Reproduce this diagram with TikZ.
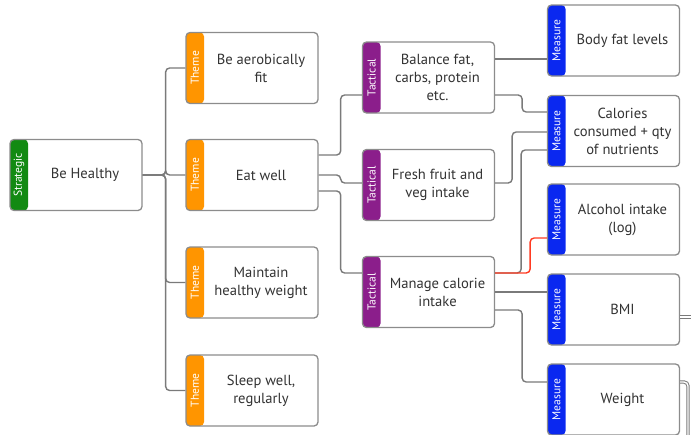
\documentclass[tikz,border=0pt]{standalone}
\usepackage{fontspec}
\setmainfont{PT Sans}
\usetikzlibrary{calc}

\definecolor{boxgray}{HTML}{8C8C8C}
\definecolor{linegray}{HTML}{7A7A7A}
\definecolor{textgray}{HTML}{333333}
\definecolor{stratgreen}{HTML}{128A12}
\definecolor{themeorange}{HTML}{FF9500}
\definecolor{tactpurple}{HTML}{8B1E8B}
\definecolor{measblue}{HTML}{0A28F0}
\definecolor{alertred}{HTML}{FF3B22}

\begin{document}
\begin{tikzpicture}[x=1pt,y=-1pt,
  card/.style={draw=boxgray,line width=1.3pt,rounded corners=4pt,fill=white,
    minimum width=132pt,minimum height=71pt,inner sep=0pt,
    path picture={\fill[#1] (path picture bounding box.north west)
      rectangle ([xshift=18pt]path picture bounding box.south west);}},
  tagtext/.style={xshift=-57pt,anchor=center,rotate=90,text=white,
    font=\fontsize{11.5}{13}\selectfont},
  cardtext/.style={xshift=9pt,anchor=center,align=center,text=textgray,
    font=\fontsize{14.6}{18}\selectfont},
  txt/.style={label={[cardtext]center:#1}},
  strategic/.style={card=stratgreen,label={[tagtext]center:Strategic}},
  theme/.style={card=themeorange,label={[tagtext]center:Theme}},
  tactical/.style={card=tactpurple,label={[tagtext]center:Tactical}},
  measure/.style={card=measblue,label={[tagtext]center:Measure}},
  conn/.style={draw=linegray,line width=1.4pt,rounded corners=4pt},
  dbl/.style={draw=linegray,line width=1pt,double=white,double distance=1.4pt,rounded corners=4pt}]
  \useasboundingbox (0,0) rectangle (691,434);
  \clip (0,0) rectangle (691,434);

  \node[strategic,txt={Be Healthy}] (health) at (76,175) {};

  \node[theme,txt={Be aerobically\\fit}] (aero) at (252,68) {};
  \node[theme,txt={Eat well}] (eat) at (252,175) {};
  \node[theme,txt={Maintain\\healthy weight}] (maint) at (252,282.5) {};
  \node[theme,txt={Sleep well,\\regularly}] (sleep) at (252,390.5) {};

  \node[tactical,txt={Balance fat,\\carbs, protein\\etc.}] (balance) at (428.5,77.5) {};
  \node[tactical,txt={Fresh fruit and\\veg intake}] (fresh) at (428.5,185) {};
  \node[tactical,txt={Manage calorie\\intake}] (manage) at (428.5,292) {};

  \node[measure,txt={Body fat levels}] (bodyfat) at (613.5,40.5) {};
  \node[measure,txt={Calories\\consumed + qty\\of nutrients}] (calories) at (613.5,131) {};
  \node[measure,txt={Alcohol intake\\(log)}] (alcohol) at (613.5,219.5) {};
  \node[measure,txt={BMI}] (bmi) at (613.5,309.5) {};
  \node[measure,txt={Weight}] (weight) at (613.5,399.5) {};

  \coordinate (bmiout) at (691,317);
  \coordinate (weightout) at (688,440);

  % strategic to themes
  \foreach \t in {aero,eat,maint,sleep}
    \draw[conn] (health.east) -- ++(23,0) |- (\t.west);

  % themes to tactics
  \draw[conn] ([yshift=20pt]eat.east) -- ++(22,0) |- ([yshift=-17.5pt]balance.west);
  \draw[conn] (eat.east) -- ++(22,0) |- ([yshift=2pt]fresh.west);
  \draw[conn] ([yshift=-16pt]eat.east) -- ++(22,0) |- ([yshift=19pt]manage.west);

  % tactics to measures
  \draw[conn] ([yshift=18.5pt]balance.east) -- ([yshift=-18.5pt]bodyfat.west);
  \draw[conn] ([yshift=-17.5pt]balance.east) -- ++(27,0) |- ([yshift=19pt]calories.west);
  \draw[conn] ([yshift=2pt]fresh.east) -- ++(17,0) |- ([yshift=-1pt]calories.west);
  \draw[conn] ([yshift=19pt]manage.east) -- ++(26,0) |- ([yshift=-19pt]calories.west);
  \draw[conn,draw=alertred] ([yshift=19pt]manage.east) -- ++(35,0) |- ([yshift=-18.5pt]alcohol.west);
  \draw[conn] (manage.east) -- ([yshift=17.5pt]bmi.west);
  \draw[conn] ([yshift=-18pt]manage.east) -- ++(27,0) |- ([yshift=17.5pt]weight.west);

  % off to the right
  \draw[dbl] ([yshift=-7.5pt]bmi.east) -- (bmiout);
  \draw[dbl] ([yshift=17.5pt]weight.east) -| (weightout);
\end{tikzpicture}
\end{document}
